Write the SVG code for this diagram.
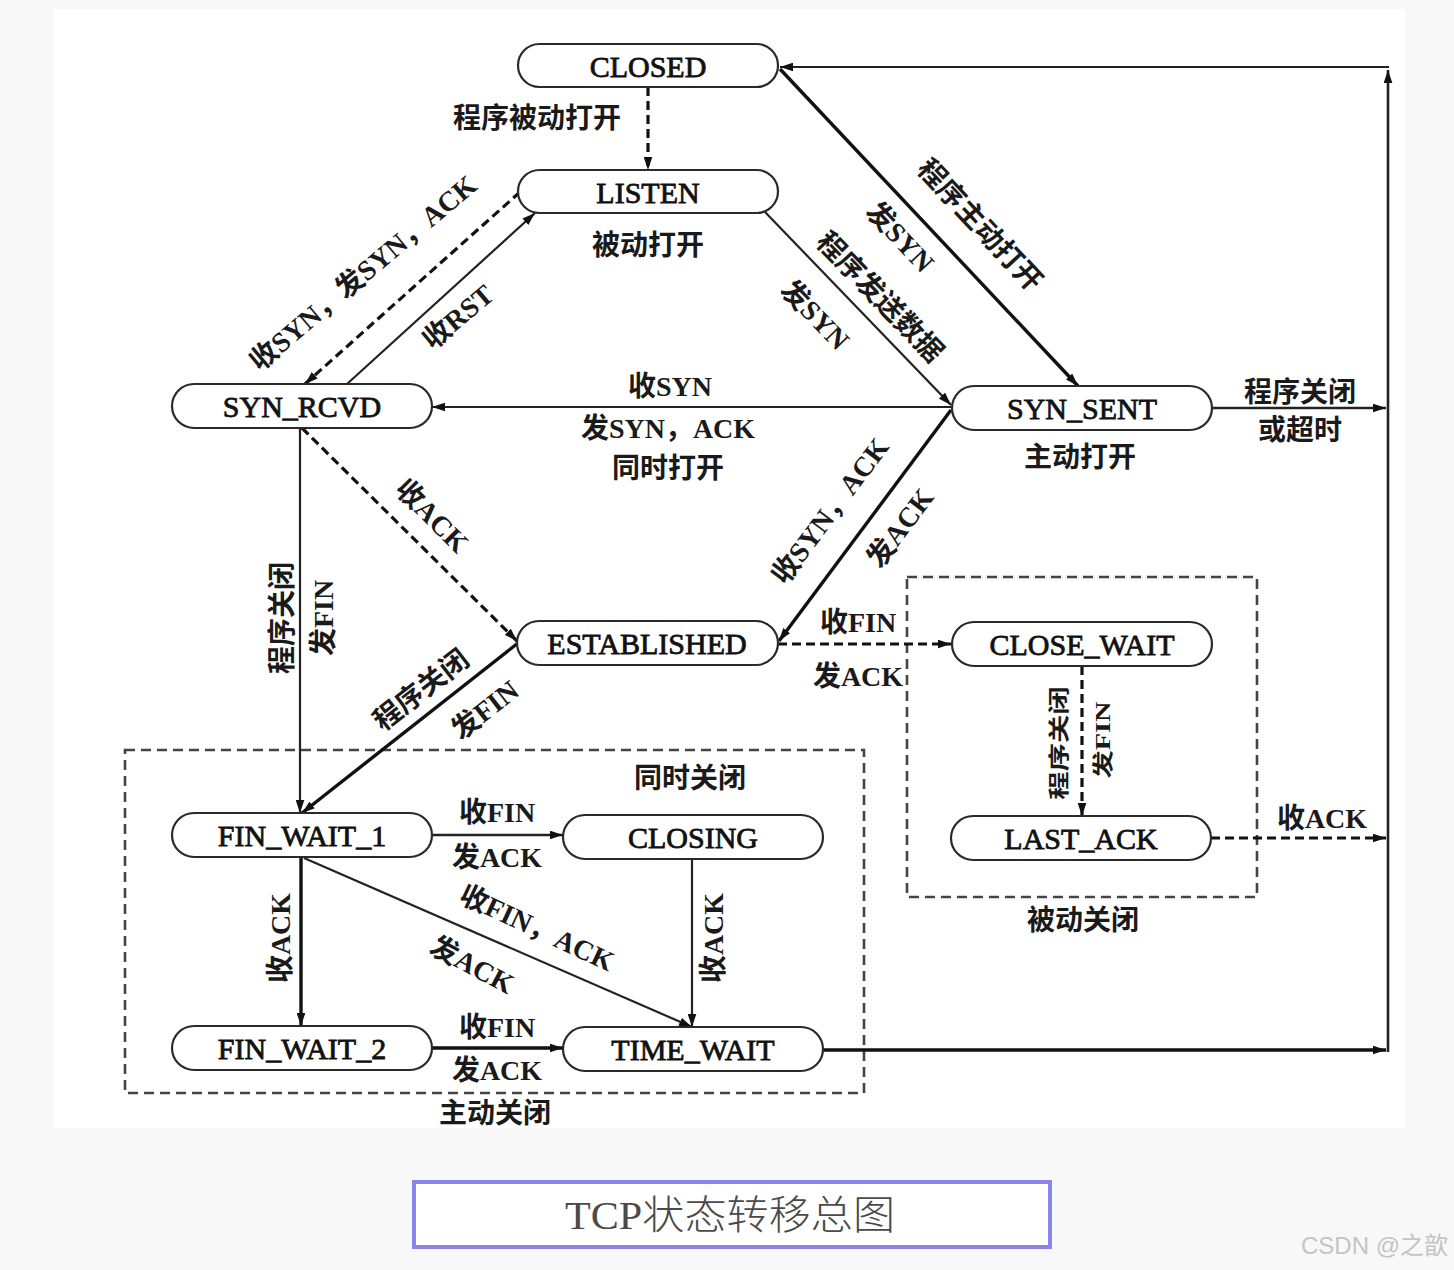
<svg xmlns="http://www.w3.org/2000/svg" width="1454" height="1270" viewBox="0 0 1454 1270">
<defs>
<style>
.node rect{fill:#fff;stroke:#2a2a2a;stroke-width:2.2}
.node text{font-family:"Liberation Serif","Noto Sans CJK SC",serif;font-size:30px;fill:#111;text-anchor:middle;dominant-baseline:central;stroke:#111;stroke-width:0.8}
.e{fill:none;stroke:#222;stroke-width:2.2}
.thick{stroke:#111;stroke-width:3.4}
.dash{stroke:#111;stroke-width:3.2;stroke-dasharray:9 5}
.grp{fill:none;stroke:#444;stroke-width:2.6;stroke-dasharray:10 6}
.lb{font-family:"Liberation Serif","Noto Sans CJK SC",serif;font-size:28px;font-weight:bold;fill:#1a1a1a;text-anchor:middle;dominant-baseline:central}
.sm{font-size:21px}
</style>
<marker id="ah" viewBox="0 0 12 8" refX="12" refY="4" markerWidth="13" markerHeight="9" markerUnits="userSpaceOnUse" orient="auto">
<path d="M0,0 L12,4 L0,8 z" fill="#111"/>
</marker>
</defs>
<rect x="0" y="0" width="1454" height="1270" fill="#f8f8f8"/>
<rect x="53" y="9" width="1352" height="1119" fill="#ffffff"/>

<g id="groups">
<rect class="grp" x="125" y="750" width="739" height="343"/>
<rect class="grp" x="907" y="577" width="350" height="320"/>
</g>

<g id="connectors">
<path class="e dash" d="M648,87 L648,170" marker-end="url(#ah)"/>
<path class="e dash" d="M520,192 L305,384" marker-end="url(#ah)"/>
<path class="e" d="M347,384 L535,213" marker-end="url(#ah)"/>
<path class="e thick" d="M780,69 L1078,386" marker-end="url(#ah)"/>
<path class="e" d="M765,212 L951,405" marker-end="url(#ah)"/>
<path class="e" d="M951,407 L432,407" marker-end="url(#ah)"/>
<path class="e thick" d="M951,410 L779,641" marker-end="url(#ah)"/>
<path class="e dash" d="M302,428 L517,641" marker-end="url(#ah)"/>
<path class="e" stroke="#444" d="M300,428 L300,813" marker-end="url(#ah)"/>
<path class="e thick" d="M518,643 L302,813" marker-end="url(#ah)"/>
<path class="e dash" d="M778,644 L951,644" marker-end="url(#ah)"/>
<path class="e dash" d="M1082,666 L1082,816" marker-end="url(#ah)"/>
<path class="e dash" d="M1211,838 L1386,838" marker-end="url(#ah)"/>
<path class="e" style="stroke-width:2.6" d="M432,835 L563,835" marker-end="url(#ah)"/>
<path class="e thick" d="M301,857 L301,1026" marker-end="url(#ah)"/>
<path class="e" d="M304,858 L692,1027" marker-end="url(#ah)"/>
<path class="e" d="M692,859 L692,1027" marker-end="url(#ah)"/>
<path class="e thick" d="M432,1048 L563,1048" marker-end="url(#ah)"/>
<path class="e thick" d="M823,1050 L1386,1050" marker-end="url(#ah)"/>
<path class="e" style="stroke-width:2.6" d="M1212,408 L1386,408" marker-end="url(#ah)"/>
<path class="e" style="stroke-width:2.6" d="M1388,1052 L1388,70" marker-end="url(#ah)"/>
<path class="e" d="M1389,67 L780,67" marker-end="url(#ah)"/>
</g>

<g id="labels">
<text class="lb" x="537" y="118">程序被动打开</text>
<text class="lb" x="648" y="245">被动打开</text>
<text class="lb" transform="translate(363,273) rotate(-40)">收SYN，发SYN，ACK</text>
<text class="lb" transform="translate(458,317) rotate(-40)">收RST</text>
<text class="lb" transform="translate(980,225) rotate(47)">程序主动打开</text>
<text class="lb" transform="translate(900,237) rotate(47)">发SYN</text>
<text class="lb" transform="translate(880,297) rotate(46)">程序发送数据</text>
<text class="lb" transform="translate(815,315) rotate(46)">发SYN</text>
<text class="lb" x="670" y="386">收SYN</text>
<text class="lb" x="668" y="428">发SYN，ACK</text>
<text class="lb" x="668" y="468">同时打开</text>
<text class="lb" x="1300" y="392">程序关闭</text>
<text class="lb" x="1300" y="430">或超时</text>
<text class="lb" x="1080" y="457">主动打开</text>
<text class="lb" transform="translate(432,516) rotate(45)">收ACK</text>
<text class="lb" transform="translate(830,511) rotate(-53)">收SYN，ACK</text>
<text class="lb" transform="translate(900,528) rotate(-53)">发ACK</text>
<text class="lb" transform="translate(282,618) rotate(-90)">程序关闭</text>
<text class="lb" transform="translate(323,618) rotate(-90)">发FIN</text>
<text class="lb" transform="translate(421,690) rotate(-38)">程序关闭</text>
<text class="lb" transform="translate(485,710) rotate(-38)">发FIN</text>
<text class="lb" x="858" y="622">收FIN</text>
<text class="lb" x="858" y="676">发ACK</text>
<text class="lb sm" transform="translate(1059,743) rotate(-90) scale(1.35,1)">程序关闭</text>
<text class="lb sm" transform="translate(1103,740) rotate(-90) scale(1.35,1)">发FIN</text>
<text class="lb" x="1322" y="818">收ACK</text>
<text class="lb" x="1083" y="920">被动关闭</text>
<text class="lb" x="690" y="778">同时关闭</text>
<text class="lb" x="497" y="812">收FIN</text>
<text class="lb" x="497" y="857">发ACK</text>
<text class="lb" transform="translate(280,938) rotate(-90)">收ACK</text>
<text class="lb" transform="translate(537,928) rotate(25)">收FIN，ACK</text>
<text class="lb" transform="translate(472,965) rotate(28)">发ACK</text>
<text class="lb" transform="translate(713,938) rotate(-90)">收ACK</text>
<text class="lb" x="497" y="1027">收FIN</text>
<text class="lb" x="497" y="1070">发ACK</text>
<text class="lb" x="495" y="1113">主动关闭</text>
</g>

<g id="n-closed" class="node"><rect x="518" y="44" width="260" height="43" rx="21.5"/><text x="648" y="66">CLOSED</text></g>
<g id="n-listen" class="node"><rect x="518" y="170" width="260" height="43" rx="21.5"/><text x="648" y="192">LISTEN</text></g>
<g id="n-syn-rcvd" class="node"><rect x="172" y="384" width="260" height="44" rx="22"/><text x="302" y="406">SYN_RCVD</text></g>
<g id="n-syn-sent" class="node"><rect x="952" y="386" width="260" height="44" rx="22"/><text x="1082" y="408">SYN_SENT</text></g>
<g id="n-established" class="node"><rect x="517" y="621" width="261" height="44" rx="22"/><text x="647" y="643">ESTABLISHED</text></g>
<g id="n-close-wait" class="node"><rect x="952" y="622" width="260" height="44" rx="22"/><text x="1082" y="644">CLOSE_WAIT</text></g>
<g id="n-last-ack" class="node"><rect x="951" y="816" width="260" height="44" rx="22"/><text x="1081" y="838">LAST_ACK</text></g>
<g id="n-fin-wait-1" class="node"><rect x="172" y="813" width="260" height="44" rx="22"/><text x="302" y="835">FIN_WAIT_1</text></g>
<g id="n-closing" class="node"><rect x="563" y="815" width="260" height="44" rx="22"/><text x="693" y="837">CLOSING</text></g>
<g id="n-fin-wait-2" class="node"><rect x="172" y="1026" width="260" height="44" rx="22"/><text x="302" y="1048">FIN_WAIT_2</text></g>
<g id="n-time-wait" class="node"><rect x="563" y="1027" width="260" height="44" rx="22"/><text x="693" y="1049">TIME_WAIT</text></g>

<g id="caption">
<rect x="414" y="1182" width="636" height="65" fill="#fff" stroke="#8c84ee" stroke-width="4"/>
<text x="730" y="1215" font-family="'Liberation Serif','Noto Sans CJK SC',serif" font-size="40" font-weight="300" fill="#4a4a4a" text-anchor="middle" dominant-baseline="central" textLength="330" lengthAdjust="spacingAndGlyphs">TCP状态转移总图</text>
</g>
<text x="1448" y="1245" font-family="'Liberation Sans','Noto Sans CJK SC',sans-serif" font-size="24" fill="#c4c4c4" text-anchor="end" dominant-baseline="central">CSDN @之歆</text>
</svg>
